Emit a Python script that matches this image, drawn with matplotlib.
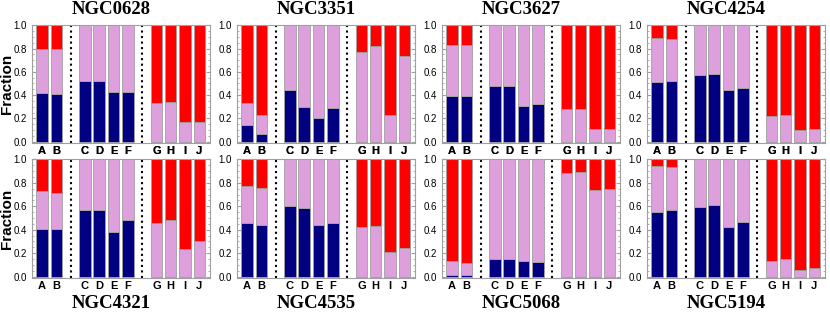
import matplotlib.pyplot as plt
from matplotlib.ticker import MultipleLocator

plt.rcParams['font.family'] = ['Liberation Sans', 'DejaVu Sans']

# Categories and positions on the x axis (gaps where the dotted lines sit)
labels = ['A', 'B', 'C', 'D', 'E', 'F', 'G', 'H', 'I', 'J']
xpos = [0, 1, 3, 4, 5, 6, 8, 9, 10, 11]
separators = [2, 7]

galaxies = ['NGC0628', 'NGC3351', 'NGC3627', 'NGC4254',
            'NGC4321', 'NGC4535', 'NGC5068', 'NGC5194']

# Bottom (navy) fraction per bar
navy = {
    'NGC0628': [0.414, 0.41, 0.52, 0.52, 0.425, 0.43, 0, 0, 0, 0],
    'NGC3351': [0.142, 0.062, 0.44, 0.30, 0.20, 0.286, 0, 0, 0, 0],
    'NGC3627': [0.39, 0.39, 0.476, 0.476, 0.306, 0.323, 0, 0, 0, 0],
    'NGC4254': [0.51, 0.518, 0.575, 0.583, 0.442, 0.459, 0, 0, 0, 0],
    'NGC4321': [0.41, 0.405, 0.564, 0.57, 0.379, 0.484, 0, 0, 0, 0],
    'NGC4535': [0.459, 0.436, 0.601, 0.584, 0.442, 0.459, 0, 0, 0, 0],
    'NGC5068': [0.014, 0.011, 0.154, 0.151, 0.134, 0.125, 0, 0, 0, 0],
    'NGC5194': [0.553, 0.564, 0.59, 0.61, 0.424, 0.464, 0, 0, 0, 0],
}
# Cumulative top of the plum segment per bar (rest up to 1.0 is red)
plum_top = {
    'NGC0628': [0.80, 0.796, 1, 1, 1, 1, 0.33, 0.34, 0.165, 0.17],
    'NGC3351': [0.334, 0.232, 1, 1, 1, 1, 0.773, 0.819, 0.232, 0.734],
    'NGC3627': [0.827, 0.827, 1, 1, 1, 1, 0.278, 0.278, 0.105, 0.105],
    'NGC4254': [0.887, 0.884, 1, 1, 1, 1, 0.221, 0.227, 0.102, 0.11],
    'NGC4321': [0.732, 0.715, 1, 1, 1, 1, 0.456, 0.479, 0.234, 0.302],
    'NGC4535': [0.769, 0.755, 1, 1, 1, 1, 0.427, 0.433, 0.208, 0.248],
    'NGC5068': [0.134, 0.117, 1, 1, 1, 1, 0.883, 0.894, 0.735, 0.746],
    'NGC5194': [0.943, 0.934, 1, 1, 1, 1, 0.131, 0.154, 0.057, 0.077],
}

c_navy = '#000080'
c_plum = '#dda0dd'
c_red = '#ff0000'
edge = '#a0a0a0'
serif = ['Liberation Serif', 'DejaVu Serif']

fig = plt.figure(figsize=(8.3, 3.13), dpi=100)

lefts = [32, 237, 442, 647]
W, H = 830.0, 313.0
rows = [(143, 118), (278, 119)]  # bottom px from top, height px
title_base = [14, 308]

for i, name in enumerate(galaxies):
    r, c = divmod(i, 4)
    bot_px, h_px = rows[r]
    ax = fig.add_axes([lefts[c] / W, 1 - bot_px / H, 178 / W, h_px / H])

    nv = navy[name]
    pt = plum_top[name]
    pl = [p - n for p, n in zip(pt, nv)]
    rd = [1 - p for p in pt]
    ax.bar(xpos, nv, width=0.8, color=c_navy, edgecolor=edge, linewidth=0.6)
    ax.bar(xpos, pl, width=0.8, bottom=nv, color=c_plum, edgecolor=edge, linewidth=0.6)
    ax.bar(xpos, rd, width=0.8, bottom=pt, color=c_red, edgecolor=edge, linewidth=0.6)

    for s in separators:
        ax.axvline(s, color='black', linestyle=':', linewidth=1.5)

    ax.set_xlim(-0.7, 11.75)
    ax.set_ylim(-0.012, 1.003)
    ax.set_xticks(xpos)
    ax.set_xticklabels(labels, fontsize=8, fontweight='bold')
    ax.yaxis.set_minor_locator(MultipleLocator(0.05))
    ax.set_yticks([0, 0.2, 0.4, 0.6, 0.8, 1.0])
    ax.set_yticklabels(['0.0', '0.2', '0.4', '0.6', '0.8', '1.0'], fontsize=7)
    ax.tick_params(axis='y', which='both', direction='in', right=True, color=edge, pad=3.5)
    ax.tick_params(axis='y', which='major', length=3)
    ax.tick_params(axis='y', which='minor', length=1.5)
    ax.tick_params(axis='x', length=0, pad=2, labeltop=(r == 1), top=False)
    for sp in ax.spines.values():
        sp.set_color(edge)
        sp.set_linewidth(0.8)

    if c == 0:
        ax.set_ylabel('Fraction', fontsize=11, fontweight='bold')
        ax.yaxis.set_label_coords(-0.1, 0.5)

    fig.text((lefts[c] + 79) / W, 1 - title_base[r] / H, name, ha='center', va='baseline',
             fontsize=13.5, fontweight='bold', family=serif)

fig.savefig('out.png', dpi=100)
plt.close(fig)
